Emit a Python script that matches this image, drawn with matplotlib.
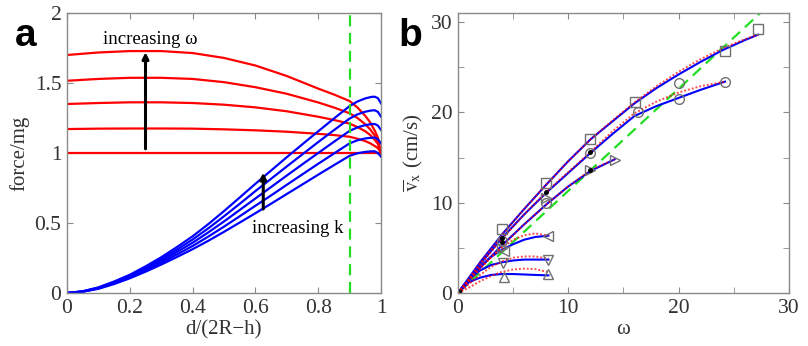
import numpy as np
import matplotlib
matplotlib.use("Agg")
import matplotlib.pyplot as plt

plt.rcParams['font.family'] = ['Liberation Serif', 'DejaVu Serif']
plt.rcParams['mathtext.fontset'] = 'stix'

# ---- panel a : force vs d/(2R-h) ----
xa = [0, 0.1, 0.2, 0.3, 0.4, 0.5, 0.6, 0.7, 0.8, 0.85, 0.9, 0.925, 0.95, 0.965, 0.98, 0.99, 1.0]
red_curves = [
    [1.700, 1.718, 1.728, 1.728, 1.714, 1.679, 1.625, 1.550, 1.460, 1.418, 1.371, 1.325, 1.265, 1.220, 1.160, 1.110, 1.000],
    [1.516, 1.529, 1.537, 1.537, 1.529, 1.506, 1.470, 1.423, 1.361, 1.325, 1.284, 1.250, 1.205, 1.170, 1.125, 1.085, 1.000],
    [1.350, 1.357, 1.362, 1.362, 1.357, 1.345, 1.326, 1.298, 1.259, 1.236, 1.210, 1.185, 1.155, 1.130, 1.094, 1.065, 1.000],
    [1.171, 1.174, 1.175, 1.175, 1.174, 1.169, 1.162, 1.152, 1.137, 1.128, 1.116, 1.102, 1.085, 1.070, 1.050, 1.035, 1.000],
    [1.000, 1.000, 1.000, 1.000, 1.000, 1.000, 1.000, 1.000, 1.000, 1.000, 1.000, 1.000, 1.000, 1.000, 1.000, 1.000, 1.000],
]
xb = [0, 0.05, 0.1, 0.15, 0.2, 0.25, 0.3, 0.35, 0.4, 0.45, 0.5, 0.55, 0.6, 0.65, 0.7,
      0.75, 0.8, 0.85, 0.9, 0.925, 0.95, 0.97, 0.98, 0.99, 1.0]
blue_curves = [
    [0, 0.012, 0.040, 0.082, 0.130, 0.190, 0.255, 0.328, 0.405, 0.492, 0.585, 0.682, 0.780,
     0.875, 0.970, 1.063, 1.155, 1.246, 1.335, 1.368, 1.390, 1.401, 1.402, 1.392, 1.355],
    [0, 0.011, 0.038, 0.078, 0.124, 0.181, 0.242, 0.310, 0.382, 0.462, 0.548, 0.637, 0.728,
     0.816, 0.904, 0.991, 1.078, 1.163, 1.246, 1.276, 1.295, 1.304, 1.305, 1.294, 1.260],
    [0, 0.011, 0.035, 0.073, 0.118, 0.171, 0.229, 0.293, 0.359, 0.433, 0.511, 0.593, 0.675,
     0.757, 0.839, 0.920, 1.000, 1.080, 1.158, 1.183, 1.199, 1.207, 1.207, 1.196, 1.165],
    [0, 0.010, 0.033, 0.069, 0.111, 0.162, 0.216, 0.275, 0.336, 0.403, 0.474, 0.548, 0.623,
     0.697, 0.773, 0.848, 0.923, 0.996, 1.069, 1.091, 1.104, 1.109, 1.110, 1.098, 1.069],
    [0, 0.009, 0.030, 0.064, 0.105, 0.152, 0.203, 0.257, 0.313, 0.373, 0.437, 0.503, 0.570,
     0.638, 0.707, 0.776, 0.845, 0.913, 0.980, 0.998, 1.008, 1.012, 1.012, 1.000, 0.974],
]
x_dash = 0.9

# ---- panel b : mean velocity vs omega ----
w_sq = [0, 1, 2, 4, 6, 8, 10, 12, 14, 16, 18, 20, 22, 24, 26, 27.2]
v_sq_blue = [0, 1.7, 3.4, 6.5, 9.3, 12.0, 14.6, 17.0, 19.0, 21.0, 22.7, 24.2, 25.6, 26.9, 28.0, 28.6]
v_sq_red = [0, 1.6, 3.3, 6.4, 9.3, 12.0, 14.6, 17.0, 19.1, 21.1, 22.9, 24.5, 25.9, 27.1, 28.1, 28.6]

w_ci = [0, 1, 2, 4, 6, 8, 10, 12, 14, 16, 18, 20, 22, 24.2]
v_ci_blue = [0, 1.6, 3.2, 6.1, 8.7, 11.1, 13.3, 15.5, 17.6, 19.6, 20.7, 21.6, 22.5, 23.4]
v_ci_red = [0, 1.5, 3.1, 6.0, 8.7, 11.2, 13.4, 15.6, 17.9, 19.9, 21.2, 22.2, 22.9, 23.4]

w_rt = [0, 2, 4, 6, 8, 10, 12, 14.2]
v_rt_blue = [0, 2.8, 5.3, 7.6, 9.8, 11.8, 13.5, 14.8]
v_rt_red = [0, 2.7, 5.2, 7.6, 9.8, 11.8, 13.6, 14.8]

w_small = [0, 1, 2, 3, 4, 5, 6, 7, 8.2]
v_lt_blue = [0, 1.6, 2.9, 4.0, 4.8, 5.4, 5.9, 6.2, 6.35]
v_lt_red = [0, 1.4, 2.7, 4.0, 5.0, 5.9, 6.4, 6.6, 6.35]
v_dn_blue = [0, 1.5, 2.5, 3.1, 3.4, 3.6, 3.7, 3.7, 3.7]
v_dn_red = [0, 1.0, 2.0, 2.9, 3.5, 3.9, 4.05, 4.05, 3.8]
v_up_blue = [0, 1.2, 1.7, 2.0, 2.1, 2.1, 2.05, 2.0, 1.95]
v_up_red = [0, 0.6, 1.3, 1.9, 2.35, 2.6, 2.7, 2.65, 2.3]

pts_sq_w = [4, 8, 12, 16, 24.2, 27.2]
pts_sq_v = [7.1, 12.2, 17.05, 21.2, 26.8, 29.2]
pts_ci_w = [4, 8, 12, 16.3, 20, 20, 24.2]
pts_ci_v = [5.8, 10.0, 15.5, 20.0, 21.5, 23.2, 23.4]
pts_rt_w = [4, 8, 12, 14.2]
pts_rt_v = [5.0, 10.5, 13.6, 14.7]
pts_lt_w = [4.2, 8.2]
pts_lt_v = [4.7, 6.35]
pts_dn_w = [4.1, 8.2]
pts_dn_v = [3.27, 3.7]
pts_up_w = [4.2, 8.2]
pts_up_v = [1.8, 2.15]
dots_w = [4, 4, 8, 12, 12]
dots_v = [6.1, 5.6, 11.2, 13.6, 15.6]

green_w = [0, 27.4]
green_v = [0, 31.0]

RED = '#ff0000'
BLUE = '#0000ff'
GREEN = '#22dd22'
GRAY = '#707070'

fig = plt.figure(figsize=(8.08, 3.46), dpi=100)
ax1 = fig.add_axes([67 / 808, 53 / 346, 314 / 808, 280 / 346])
ax2 = fig.add_axes([458 / 808, 53 / 346, 331 / 808, 280 / 346])

for c in red_curves:
    ax1.plot(xa, c, color=RED, lw=1.6)
for c in blue_curves:
    ax1.plot(xb, c, color=BLUE, lw=1.6)
ax1.axvline(x_dash, color=GREEN, lw=1.6, ls=(0, (5, 3)))
ax1.annotate('', xy=(0.25, 1.72), xytext=(0.25, 1.03),
             arrowprops=dict(arrowstyle='-|>', color='black', lw=2.2,
                             mutation_scale=9, shrinkA=0, shrinkB=0))
ax1.annotate('', xy=(0.625, 0.86), xytext=(0.625, 0.6),
             arrowprops=dict(arrowstyle='-|>', color='black', lw=2.2,
                             mutation_scale=9, shrinkA=0, shrinkB=0))
ax1.text(0.265, 1.81, 'increasing ω', ha='center', va='center', fontsize=13.5)
ax1.text(0.735, 0.46, 'increasing k', ha='center', va='center', fontsize=13.5)

ax1.set_xlim(0, 1)
ax1.set_ylim(0, 2)
ax1.set_xticks([0, 0.2, 0.4, 0.6, 0.8, 1])
ax1.set_xticklabels(['0', '0.2', '0.4', '0.6', '0.8', '1'])
ax1.set_yticks([0, 0.5, 1, 1.5, 2])
ax1.set_yticklabels(['0', '0.5', '1', '1.5', '2'])
ax1.set_xlabel('d/(2R\u2212h)', fontsize=15, labelpad=2)
ax1.set_ylabel('force/mg', fontsize=15, labelpad=4)

# panel b
ax2.plot(green_w, green_v, color=GREEN, lw=1.6, ls=(0, (5, 3)))
blues = [(w_sq, v_sq_blue), (w_ci, v_ci_blue), (w_rt, v_rt_blue),
         (w_small, v_lt_blue), (w_small, v_dn_blue), (w_small, v_up_blue)]
reds = [(w_sq, v_sq_red), (w_ci, v_ci_red), (w_rt, v_rt_red),
        (w_small, v_lt_red), (w_small, v_dn_red), (w_small, v_up_red)]
for w, v in blues:
    ax2.plot(w, v, color=BLUE, lw=1.5)
for w, v in reds:
    ax2.plot(w, v, color=RED, lw=1.4, ls=(0, (1, 1)), alpha=0.7)

mk = dict(mfc='none', mec=GRAY, ls='none', ms=7, mew=1.0)
ax2.plot(pts_sq_w, pts_sq_v, marker='s', **mk)
ax2.plot(pts_ci_w, pts_ci_v, marker='o', **mk)
ax2.plot(pts_rt_w, pts_rt_v, marker='>', **mk)
ax2.plot(pts_lt_w, pts_lt_v, marker='<', **mk)
ax2.plot(pts_dn_w, pts_dn_v, marker='v', **mk)
ax2.plot(pts_up_w, pts_up_v, marker='^', **mk)
ax2.plot(dots_w, dots_v, ls='none', marker='o', color='black', ms=2.5)
ax2.plot([0], [0], ls='none', marker='s', color='black', ms=5)

ax2.set_xlim(0, 30)
ax2.set_ylim(0, 31)
ax2.set_xticks([0, 10, 20, 30])
ax2.set_xticks([5, 15, 25], minor=True)
ax2.set_yticks([0, 10, 20, 30])
ax2.set_yticks([5, 15, 25], minor=True)
ax2.set_xlabel('ω', fontsize=15, labelpad=2)
ax2.set_ylabel(r'$\overline{\mathrm{v}}_{\mathrm{x}}$ (cm/s)', fontsize=15, labelpad=4)

for ax in (ax1, ax2):
    for s in ax.spines.values():
        s.set_color('#8a8a8a')
        s.set_linewidth(1.0)
    ax.tick_params(which='both', direction='in', top=True, right=True,
                   color='#8a8a8a', labelsize=15.5, pad=4)
    ax.tick_params(which='major', length=4)
    ax.tick_params(which='minor', length=4)
    ax.xaxis.label.set_color('#333333')
    ax.yaxis.label.set_color('#333333')
    for t in ax.get_xticklabels() + ax.get_yticklabels():
        t.set_color('#333333')

fig.text(15 / 808, 1 - 46 / 346, 'a', fontsize=28, fontweight='bold',
         family='Liberation Sans', va='baseline')
fig.text(398 / 808, 1 - 46 / 346, 'b', fontsize=28, fontweight='bold',
         family='Liberation Sans', va='baseline')

fig.savefig('out.png', dpi=100)
